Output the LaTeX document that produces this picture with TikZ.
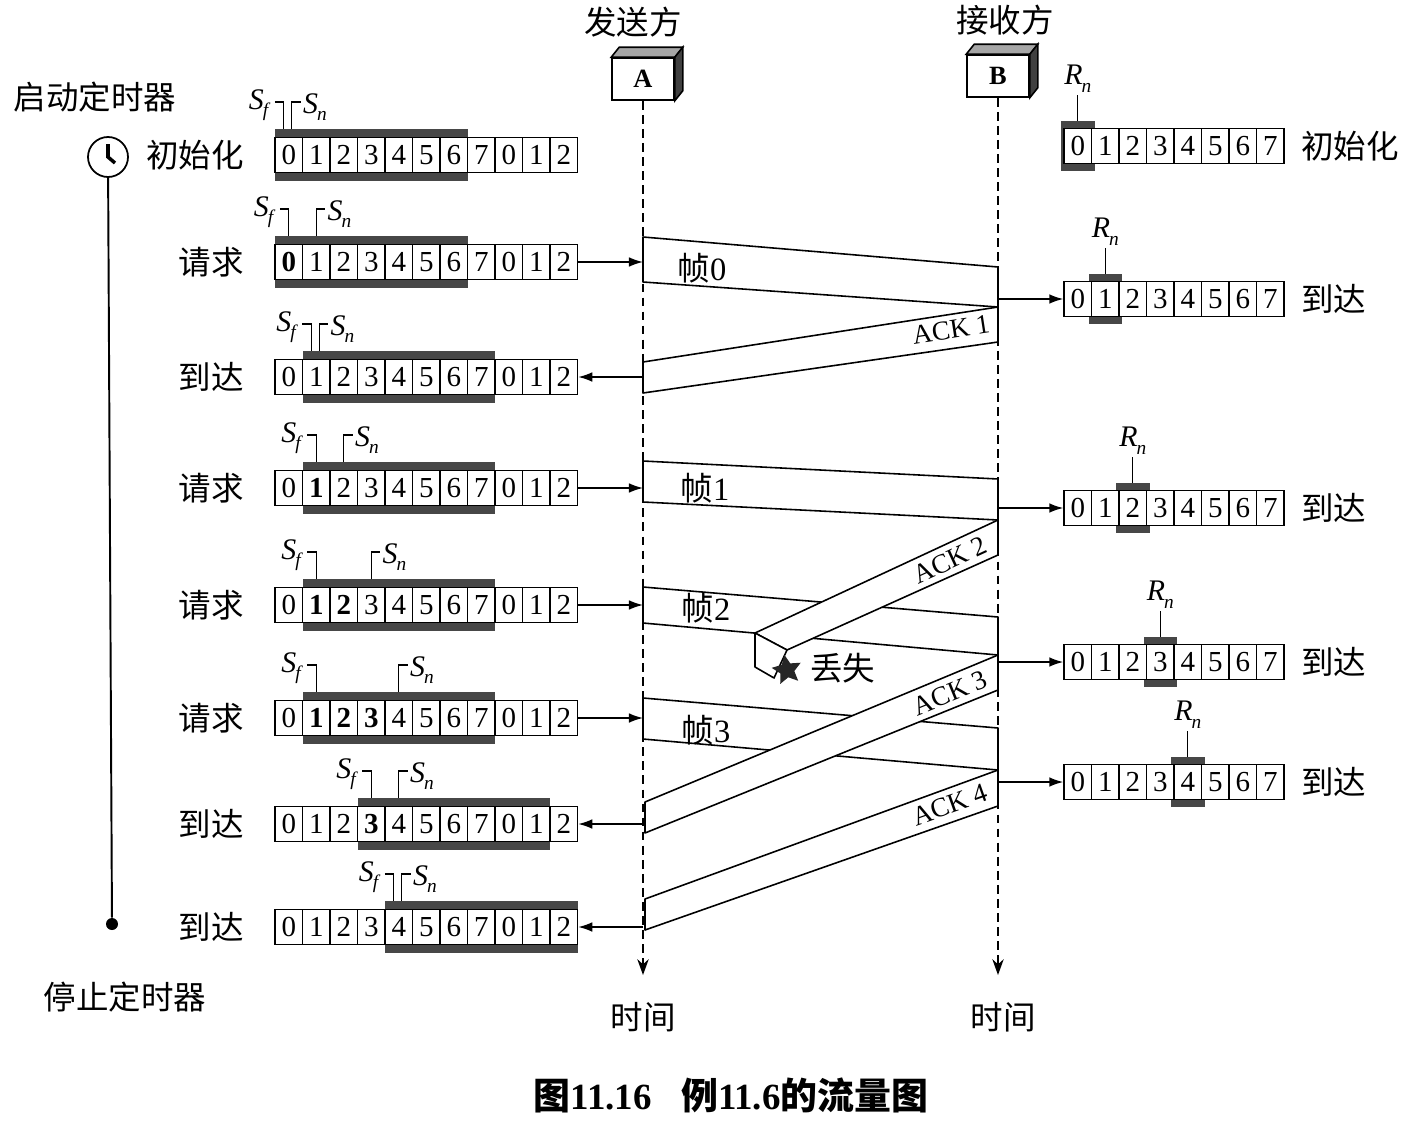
\documentclass[tikz,border=0pt]{standalone}
\usepackage{fontspec}
\setmainfont{Liberation Serif}
\newfontfamily\cjk{Noto Sans CJK SC}
\usepackage{tikz}
\usetikzlibrary{arrows.meta,positioning,shapes.geometric}

% pointer label with subscript
\newcommand{\idx}[2]{\textit{#1}\kern-0.5pt\raisebox{-0.55ex}{\fontsize{11}{11}\selectfont\textit{#2}}}

% sender window: name, y, Sf, Sn
\newcommand{\sendwin}[4]{%
  \fill[winbar] ({275+#3*27.5},{#2-26}) rectangle ++(192.5,52);
  \foreach \d [count=\i from 0] in {0,1,2,3,4,5,6,7,0,1,2}{
    \ifnum\i<#3 \def\wt{}\else\ifnum\i<#4 \def\wt{\bfseries}\else\def\wt{}\fi\fi
    \node[cell] (#1-\i) at ({288.75+\i*27.5},#2) {\wt\d};
  }
  \ifnum#3=#4 \def\fo{-5}\def\no{3}\else\def\fo{0}\def\no{0}\fi
  \pgfmathsetmacro\sfx{288.75+#3*27.5+\fo}
  \pgfmathsetmacro\snx{288.75+#4*27.5+\no}
  \draw[hook] ({\sfx-9},{#2-53}) -- (\sfx,{#2-53}) -- (\sfx,{#2-26});
  \node[ptr, anchor=east] at ({\sfx-13},{#2-50}) {\idx{S}{f}};
  \draw[hook] (\snx,{#2-26}) -- (\snx,{#2-53}) -- ({\snx+9},{#2-53});
  \node[ptr, anchor=west] at ({\snx+11},{#2-48}) {\idx{S}{n}};
}

% receiver window: name, y, Rn
\newcommand{\recvwin}[3]{%
  \fill[winbar] ({1064+#3*27.5-3},{#2-25}) rectangle ++(33.5,50);
  \foreach \i in {0,...,7}
    \node[cell] (#1-\i) at ({1077.75+\i*27.5},#2) {\i};
  \draw[hook] (#1-#3.north) ++(0,-7) -- ++(0,-26) node[ptr, anchor=south, inner sep=1pt] {\idx{R}{n}};
}

\begin{document}
\begin{tikzpicture}[
    x=0.02cm, y=-0.02cm,
    lab/.style={font=\cjk\fontsize{18.5}{20}\selectfont, inner sep=0},
    framelab/.style={font=\fontsize{18.5}{20}\selectfont, inner sep=0},
    acklab/.style={font=\fontsize{15.5}{17}\selectfont, inner sep=0},
    ptr/.style={font=\fontsize{17}{18}\selectfont, inner sep=0},
    cell/.style={draw, fill=white, minimum width=0.55cm, minimum height=0.7cm, inner sep=0, line width=0.8pt, font=\fontsize{16.5}{18}\selectfont},
    winbar/.style={fill=black!72},
    hook/.style={line width=0.7pt},
    sysbox/.style={draw, fill=white, minimum width=1.24cm, minimum height=0.84cm, line width=0.9pt, font=\bfseries\fontsize{15}{16}\selectfont},
    boxtop/.style={draw, fill=black!35, line width=0.9pt},
    boxside/.style={draw, fill=black!75, line width=0.9pt},
    lifeline/.style={line width=0.8pt, dash pattern=on 5pt off 3pt, -{Stealth[length=9pt,width=6.5pt]}},
    band/.style={draw, fill=white, line width=0.9pt, line join=round},
    arrow/.style={line width=0.9pt, ->, >={Latex[length=8pt,width=5.5pt]}},
    clock/.style={circle, draw, line width=1pt, minimum size=0.8cm, inner sep=0},
    dot/.style={circle, fill, inner sep=0, minimum size=0.24cm},
    lost/.style={star, star points=5, star point ratio=2.1, fill=black!85, minimum size=0.62cm, inner sep=0},
    caption/.style={font=\bfseries\fontsize{21}{24}\selectfont, inner sep=0}
]
\useasboundingbox (0,0) rectangle (1408,1122);
\fill[white] (0,0) rectangle (1408,1122);

% Sender side
\sendwin{s1}{155}{0}{0}
\sendwin{s2}{262}{0}{1}
\sendwin{s3}{377}{1}{1}
\sendwin{s4}{488}{1}{2}
\sendwin{s5}{605}{1}{3}
\sendwin{s6}{718}{1}{4}
\sendwin{s7}{824}{3}{4}
\sendwin{s8}{927}{4}{4}

\node[lab, left=0.6cm of s1-0] (l1) {初始化};
\node[lab, left=0.6cm of s2-0] (l2) {请求};
\node[lab, left=0.6cm of s3-0] (l3) {到达};
\node[lab, left=0.6cm of s4-0] (l4) {请求};
\node[lab, left=0.6cm of s5-0] (l5) {请求};
\node[lab, left=0.6cm of s6-0] (l6) {请求};
\node[lab, left=0.6cm of s7-0] (l7) {到达};
\node[lab, left=0.6cm of s8-0] (l8) {到达};

% Timer
\node[lab] (start) at (95,97) {启动定时器};
\node[clock] (clk) at (108,157) {};
\draw[line width=2pt] (clk.center) ++(0,-13) -- (clk.center) -- ++(7,6);
\node[dot] (stop) at (112,924) {};
\draw[line width=1.1pt] (clk) -- (stop);
\node[lab] (halt) at (125,997) {停止定时器};

% Receiver side
\recvwin{r1}{146}{0}
\recvwin{r2}{299}{1}
\recvwin{r3}{508}{2}
\recvwin{r4}{662}{3}
\recvwin{r5}{782}{4}

\node[lab, right=0.32cm of r1-7] (m1) {初始化};
\node[lab, right=0.32cm of r2-7] (m2) {到达};
\node[lab, right=0.32cm of r3-7] (m3) {到达};
\node[lab, right=0.32cm of r4-7] (m4) {到达};
\node[lab, right=0.32cm of r5-7] (m5) {到达};

% Stations
\node[sysbox] (A) at (643,79) {A};
\node[sysbox] (B) at (998,76) {B};
\filldraw[boxtop] (A.north west) -- ++(8,-10) -- ([shift={(8,-10)}]A.north east) -- (A.north east) -- cycle;
\filldraw[boxside] (A.north east) -- ([shift={(8,-10)}]A.north east) -- ([shift={(8,-10)}]A.south east) -- (A.south east) -- cycle;
\filldraw[boxtop] (B.north west) -- ++(8,-10) -- ([shift={(8,-10)}]B.north east) -- (B.north east) -- cycle;
\filldraw[boxside] (B.north east) -- ([shift={(8,-10)}]B.north east) -- ([shift={(8,-10)}]B.south east) -- (B.south east) -- cycle;
\node[lab] (snd) at (633,22) {发送方};
\node[lab] (rcv) at (1005,20) {接收方};

\draw[lifeline] (A.south) -- (A.south |- 0,975);
\draw[lifeline] (B.south) -- (B.south |- 0,975);
\node[lab] (tA) at (643,1017) {时间};
\node[lab] (tB) at (1003,1017) {时间};

% Frames and ACKs
\filldraw[band] (643,237) -- (998,267) -- (998,307) -- (643,282) -- cycle;
\node[framelab] (f0) at (702,268) {{\cjk 帧}0};
\filldraw[band] (998,307) -- (998,342) -- (643,393) -- (643,362) -- cycle;
\node[acklab, rotate=8.8] (a1) at (951,330) {ACK 1};

\filldraw[band] (643,461) -- (998,479) -- (998,520) -- (643,502) -- cycle;
\node[framelab] (f1) at (705,488) {{\cjk 帧}1};
\filldraw[band] (643,587) -- (998,617) -- (998,655) -- (643,623) -- cycle;
\node[framelab] (f2) at (706,608) {{\cjk 帧}2};
\filldraw[band] (998,520) -- (998,555) -- (787,650) -- (755,633) -- cycle;
\filldraw[band] (755,633) -- (755,667) -- (774,678) -- (787,650) -- cycle;
\node[acklab, rotate=24.8] (a2) at (950,560) {ACK 2};
\node[lost, rotate=10] (x) at (787,670) {};
\node[lab, right=0.26cm of x] (lostlab) {丢失};

\filldraw[band] (643,698) -- (998,728) -- (998,770) -- (643,739) -- cycle;
\node[framelab] (f3) at (706,730) {{\cjk 帧}3};
\filldraw[band] (998,655) -- (998,690) -- (645,833) -- (645,802) -- cycle;
\node[acklab, rotate=22.3] (a3) at (950,693) {ACK 3};
\filldraw[band] (998,770) -- (998,806) -- (645,930) -- (645,899) -- cycle;
\node[acklab, rotate=19.6] (a4) at (950,805) {ACK 4};

% Arrows
\draw[arrow] (s2-10.east) -- (s2-10.east -| A);
\draw[arrow] (s3-10.east -| A) -- (s3-10.east);
\draw[arrow] (s4-10.east) -- (s4-10.east -| A);
\draw[arrow] (s5-10.east) -- (s5-10.east -| A);
\draw[arrow] (s6-10.east) -- (s6-10.east -| A);
\draw[arrow] (s7-10.east -| A) -- (s7-10.east);
\draw[arrow] (s8-10.east -| A) -- (s8-10.east);
\draw[arrow] (r2-0.west -| B) -- (r2-0.west);
\draw[arrow] (r3-0.west -| B) -- (r3-0.west);
\draw[arrow] (r4-0.west -| B) -- (r4-0.west);
\draw[arrow] (r5-0.west -| B) -- (r5-0.west);

% Caption
\node[caption] (cap) at (731,1095) {{\cjk 图}11.16\hspace{0.8em}{\cjk 例}11.6{\cjk 的流量图}};
\end{tikzpicture}
\end{document}
